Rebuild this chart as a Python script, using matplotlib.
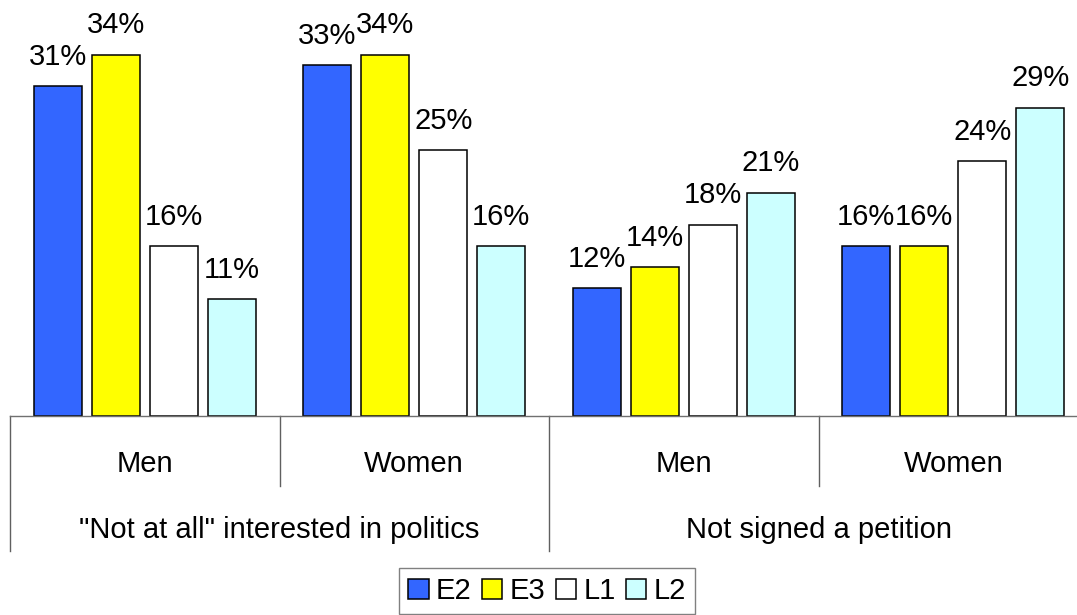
import numpy as np
import matplotlib
matplotlib.use("Agg")
import matplotlib.pyplot as plt
from matplotlib.patches import Patch

plt.rcParams['font.family'] = ['Liberation Sans', 'DejaVu Sans']

groups = ["Men", "Women", "Men", "Women"]
categories = ['"Not at all" interested in politics', "Not signed a petition"]
series = ["E2", "E3", "L1", "L2"]
e2 = [31, 33, 12, 16]
e3 = [34, 34, 14, 16]
l1 = [16, 25, 18, 24]
l2 = [11, 16, 21, 29]
colors = ["#3366FF", "#FFFF00", "#FFFFFF", "#CCFFFF"]

W, H = 1077, 615
fig = plt.figure(figsize=(W / 100, H / 100), dpi=100)
# axes placed in pixels: baseline at y=416 from top, x from 10 to 1088
ax = fig.add_axes([10 / W, (H - 416) / H, 1078 / W, 416 / H])
ax.set_xlim(-0.5, 3.5)
ax.set_ylim(0, 416 / 10.63)

fs = 21
x = np.arange(len(groups))
step = 58 / 269.5
width = 48 / 269.5
for i, (vals, c) in enumerate(zip([e2, e3, l1, l2], colors)):
    pos = x + (i - 1.5) * step
    bars = ax.bar(pos, vals, width, color=c, edgecolor="black", linewidth=1.1)
    for b, v in zip(bars, vals):
        ax.annotate(f"{v}%", (b.get_x() + b.get_width() / 2, v),
                    xytext=(0, 11), textcoords="offset points",
                    ha="center", va="bottom", fontsize=fs)

for s in ["top", "right", "left"]:
    ax.spines[s].set_visible(False)
ax.spines["bottom"].set_color("#707070")
ax.spines["bottom"].set_linewidth(1.0)
ax.set_xticks([])
ax.set_yticks([])

tr = ax.get_xaxis_transform()
# divider lines under the axis
for xd in [-0.5, 0.5, 1.5, 2.5, 3.5]:
    low = -135 / 416 if xd in (-0.5, 1.5, 3.5) else -70 / 416
    ax.plot([xd, xd], [0, low], transform=tr, color="#606060",
            linewidth=1.0, clip_on=False)

for xi, g in zip(x, groups):
    ax.text(xi, -48 / 416, g, transform=tr, ha="center", va="center", fontsize=fs)
for ci, cat in enumerate(categories):
    ax.text(ci * 2 + 0.5, -114 / 416, cat, transform=tr, ha="center",
            va="center", fontsize=fs)

handles = [Patch(facecolor=c, edgecolor="black", linewidth=1.1) for c in colors]
leg = fig.legend(handles, series, loc="center", bbox_to_anchor=(547 / W, 1 - 591 / H),
                 ncol=4, fontsize=fs, frameon=True, fancybox=False,
                 handlelength=0.7, handleheight=0.7, handletextpad=0.25,
                 columnspacing=0.35, borderpad=0.3, borderaxespad=0)
leg.get_frame().set_edgecolor("#606060")
leg.get_frame().set_linewidth(1.0)

fig.savefig("out.png", dpi=100)
